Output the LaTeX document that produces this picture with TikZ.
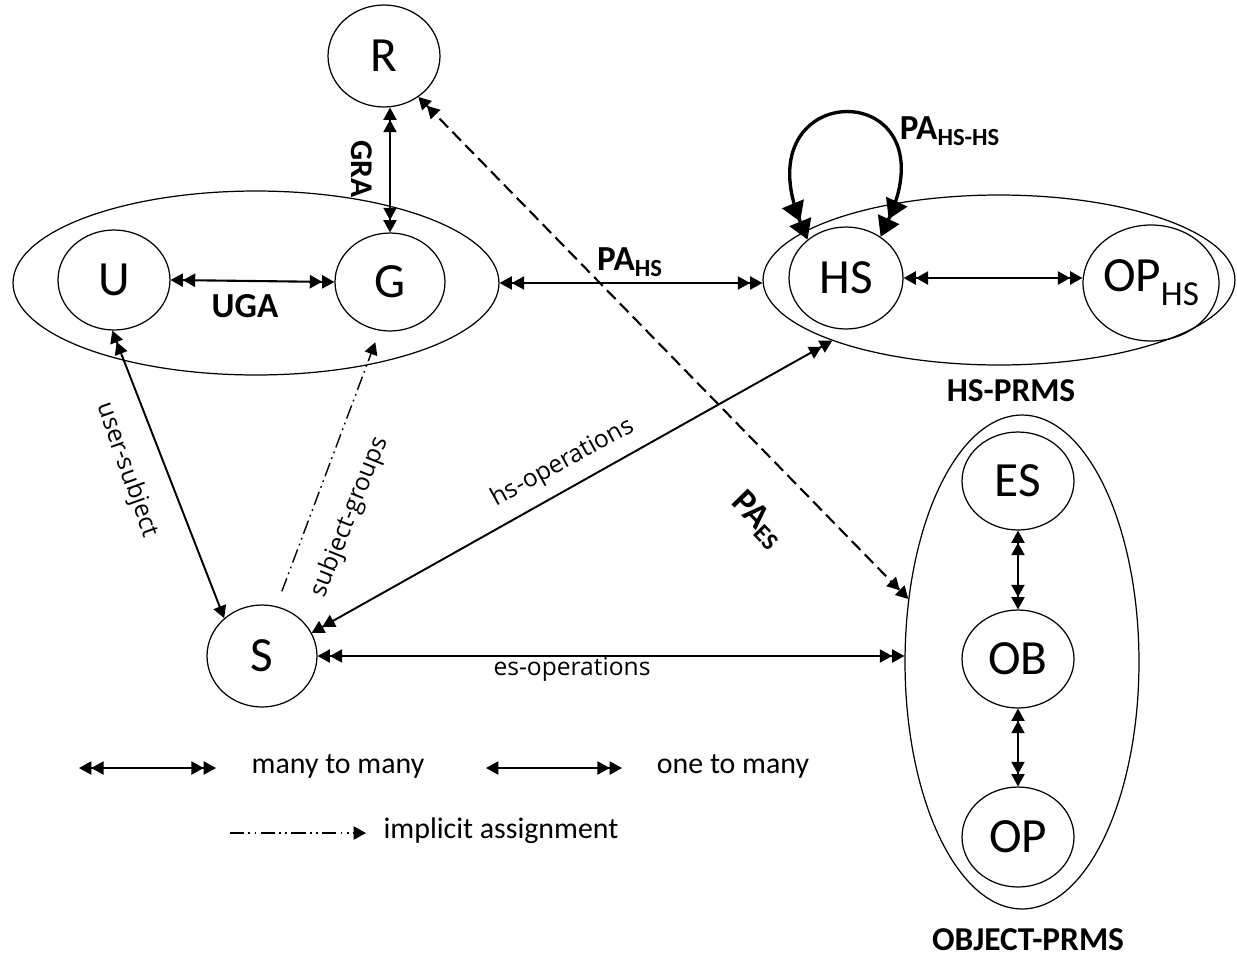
\documentclass[tikz,border=0pt]{standalone}
\usepackage{fontspec}
\setmainfont{Carlito}
\newfontfamily\lblfont{Open Sans}
\usetikzlibrary{arrows.meta,shapes.geometric}
\begin{document}
\begin{tikzpicture}[x=0.02cm,y=-0.02cm,
  el/.style={draw,ellipse,inner sep=0pt,line width=0.7pt},
  letter/.style={el,font=\fontsize{28}{30}\selectfont},
  boldlbl/.style={font=\fontsize{20}{22}\selectfont\bfseries,inner sep=1pt},
  thinlbl/.style={font=\lblfont\fontsize{14}{16}\selectfont,inner sep=1pt},
  leg/.style={font=\fontsize{17}{19}\selectfont,inner sep=1pt},
  m2m/.style={line width=0.9pt, arrows={Triangle[length=7pt,width=7.5pt]Triangle[length=7pt,width=7.5pt]}-{Triangle[length=7pt,width=7.5pt]Triangle[length=7pt,width=7.5pt]}},
  o2m/.style={line width=0.9pt, arrows={Triangle[length=7pt,width=7.5pt]}-{Triangle[length=7pt,width=7.5pt]Triangle[length=7pt,width=7.5pt]}},
  imp/.style={line width=0.8pt, dash pattern=on 8pt off 2.5pt on 1pt off 2.5pt on 1pt off 2.5pt, arrows=-{Triangle[length=7pt,width=7.5pt]}},
  pades/.style={line width=1.2pt, dash pattern=on 7pt off 3.5pt, arrows={Triangle[length=7pt,width=7.5pt]Triangle[length=7pt,width=7.5pt]}-{Triangle[length=7pt,width=7.5pt]Triangle[length=7pt,width=7.5pt]}},
  selfloop/.style={line width=1.9pt, arrows={Triangle[length=11pt,width=13pt]Triangle[length=11pt,width=13pt]}-{Triangle[length=11pt,width=13pt]Triangle[length=11pt,width=13pt]}}
]
\useasboundingbox (0,0) rectangle (1237,957);

% group ellipses
\node (UGgroup) [el, minimum width=9.72cm, minimum height=3.68cm] at (256,283) {};
\node (HSP) [el, minimum width=9.44cm, minimum height=3.4cm] at (999,280) {};
\node (OBJ) [el, minimum width=4.68cm, minimum height=9.88cm] at (1022,662) {};

% element nodes
\node (R) [letter, minimum width=2.24cm, minimum height=2.04cm] at (384,56) {R};
\node (U) [letter, minimum width=2.24cm, minimum height=2.0cm] at (114,280) {U};
\node (G) [letter, minimum width=2.2cm, minimum height=1.96cm] at (390,282) {G};
\node (HS) [letter, minimum width=2.28cm, minimum height=2.04cm] at (846,278) {HS};
\node (OPHS) [letter, minimum width=2.72cm, minimum height=2.32cm] at (1151,283) {OP\raisebox{-0.28em}{\fontsize{20}{20}\selectfont HS}};
\node (S) [letter, minimum width=2.2cm, minimum height=2.04cm] at (262,656) {S};
\node (ES) [letter, minimum width=2.24cm, minimum height=1.96cm] at (1018,481) {ES};
\node (OB) [letter, minimum width=2.24cm, minimum height=1.96cm] at (1018,659) {OB};
\node (OP) [letter, minimum width=2.24cm, minimum height=2.0cm] at (1018,837) {OP};

% connectors
\draw[m2m, line width=1.2pt] (U.east) -- (G.west);
\draw[m2m] (G.north |- R.south) -- (G.north);
\draw[m2m] (UGgroup.east) -- (UGgroup.east -| HSP.west);
\draw[m2m, line width=1.2pt] (HS.east) -- (HS.east -| OPHS.west);
\draw[selfloop] (HS.135) .. controls (740,75) and (955,75) .. (HS.50);
\draw[m2m, line width=1.1pt] (S.25) -- (HSP.200);
\draw[m2m] (S.east) -- (S.east -| OBJ.west);
\draw[pades] (R.310) -- (OBJ.151);
\draw[o2m, line width=1.1pt] (S.135) -- (U.268);
\draw[imp, shorten <=9pt, shorten >=7pt] (S.74) -- (G.258);
\draw[m2m] (ES.south) -- (OB.north);
\draw[m2m] (OB.south) -- (OP.north);

% labels
\node (lUGA) [boldlbl] at (245,306) {UGA};
\node (lGRA) [boldlbl, font=\fontsize{18}{20}\selectfont\bfseries, rotate=-90] at (362,169) {GRA};
\node (lPAHS) [boldlbl] at (630,262) {PA\textsubscript{HS}};
\node (lPAHSHS) [boldlbl] at (950,131) {PA\textsubscript{HS-HS}};
\node (lPAES) [boldlbl, rotate=-45.7] at (758,520) {PA\textsubscript{ES}};
\node (lHSP) [boldlbl, font=\fontsize{19}{21}\selectfont\bfseries] at (1011,391) {HS-PRMS};
\node (lOBJ) [boldlbl, font=\fontsize{19}{21}\selectfont\bfseries] at (1028,940) {OBJECT-PRMS};
\node (lhsop) [thinlbl, rotate=28.8] at (563,463) {hs-operations};
\node (lesop) [thinlbl] at (572,669) {es-operations};
\node (lus) [thinlbl, rotate=-70.3] at (127,470) {user-subject};
\node (lsg) [thinlbl, rotate=68.3] at (350,517) {subject-groups};

% legend
\coordinate (L1a) at (79,768);
\coordinate (L1b) at (216,768);
\coordinate (L2a) at (486,768);
\coordinate (L2b) at (622,768);
\coordinate (L3a) at (230,833);
\coordinate (L3b) at (366,833);
\draw[m2m] (L1a) -- (L1b);
\draw[o2m] (L2a) -- (L2b);
\draw[imp] (L3a) -- (L3b);
\node (t1) [leg] at (338,766) {many to many};
\node (t2) [leg] at (733,766) {one to many};
\node (t3) [leg] at (501,831) {implicit assignment};
\end{tikzpicture}
\end{document}
